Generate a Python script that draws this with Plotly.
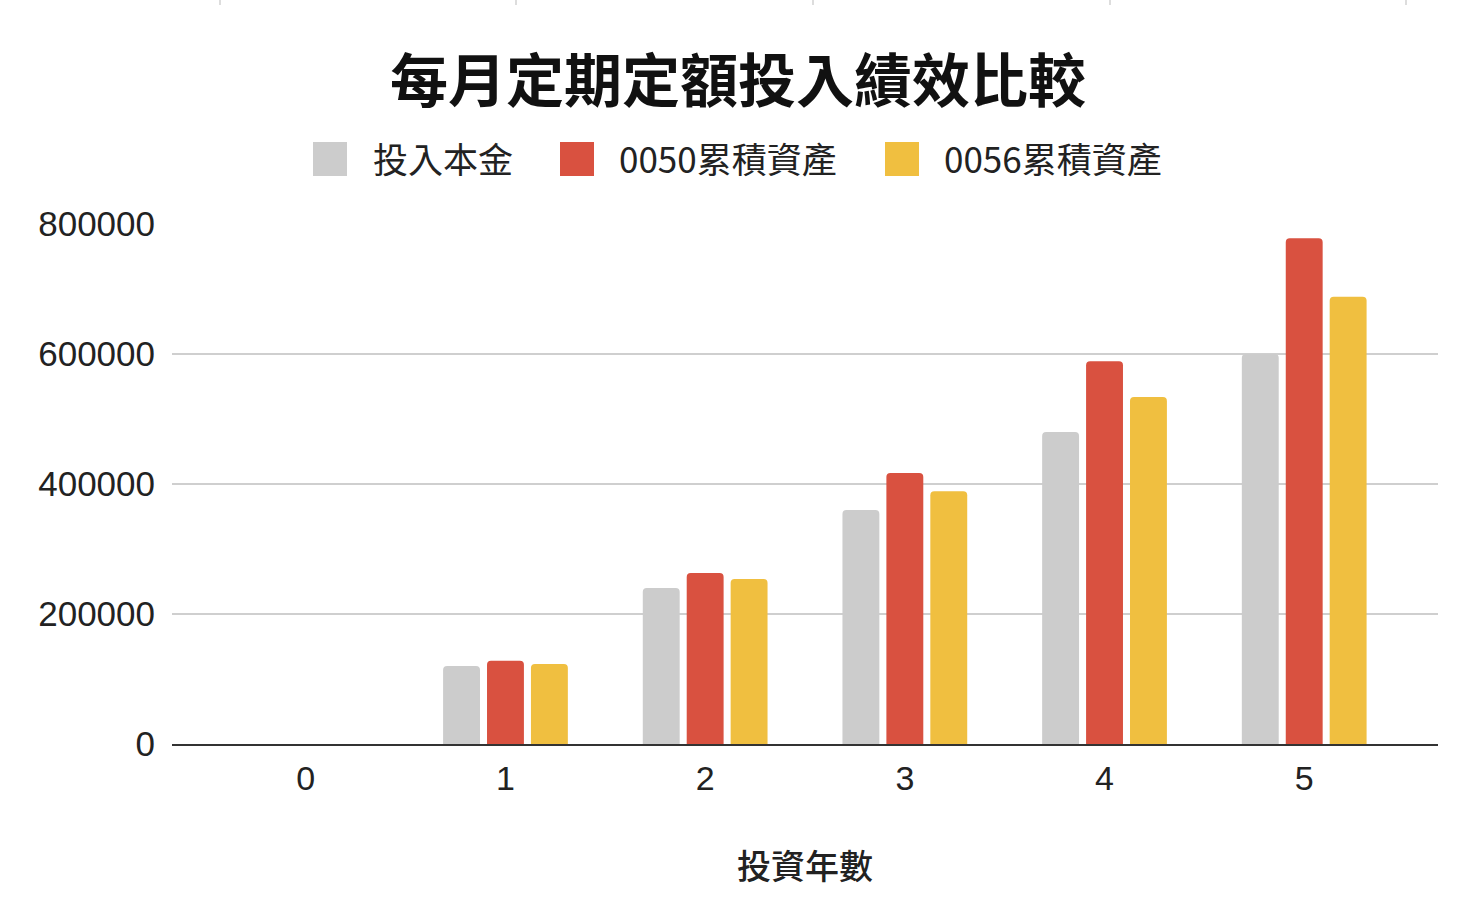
import plotly.graph_objects as go

years = [0, 1, 2, 3, 4, 5]
principal = [0, 120000, 240000, 360000, 480000, 600000]
asset_0050 = [0, 128000, 263000, 417000, 589000, 778000]
asset_0056 = [0, 123000, 254000, 389000, 534000, 688000]
series_names = ["投入本金", "0050累積資產", "0056累積資產"]
colors = ["#CCCCCC", "#D95140", "#F0BF40"]
y_ticks = [0, 200000, 400000, 600000, 800000]
title_text = "每月定期定額投入績效比較"
x_title = "投資年數"

W, H = 1470, 918
L, R, T, B = 172, 32, 224, 174
pw, ph = W - L - R, H - T - B

def px(x):
    return (x - L) / pw

def py(y):
    return (H - B - y) / ph

CJK = "Noto Sans CJK TC"
LAT = "Liberation Sans, Arial, sans-serif"

fig = go.Figure()
for name, vals, col in zip(series_names, [principal, asset_0050, asset_0056], colors):
    fig.add_trace(go.Bar(x=years, y=vals, name=name, marker=dict(color=col, cornerradius=4, line=dict(width=0)),
                         showlegend=False))

shapes = []
annotations = []
# manual legend
legend_items = [(313, 371), (560, 617), (885, 942)]
for (bx, tx), name, col in zip(legend_items, series_names, colors):
    shapes.append(dict(type="rect", xref="paper", yref="paper", x0=px(bx), x1=px(bx + 34),
                       y0=py(176), y1=py(142), fillcolor=col, line=dict(width=0), layer="above"))
    annotations.append(dict(text=name, xref="paper", yref="paper", x=px(tx), y=py(157), xanchor="left",
                            yanchor="middle", showarrow=False,
                            font=dict(family=CJK, size=35, color="#222222")))
# title
annotations.append(dict(text=title_text, xref="paper", yref="paper", x=px(738), y=py(77),
                        xanchor="center", yanchor="middle", showarrow=False,
                        font=dict(family=CJK, size=58, color="#111111", weight=600)))
# x axis title
annotations.append(dict(text=x_title, xref="paper", yref="paper", x=px(805), y=py(864),
                        xanchor="center", yanchor="middle", showarrow=False,
                        font=dict(family=CJK, size=34, color="#222222", weight=500)))
# small marks at top edge
for mx in [220, 516, 813, 1110, 1406]:
    shapes.append(dict(type="line", xref="paper", yref="paper", x0=px(mx), x1=px(mx), y0=py(0), y1=py(5),
                       line=dict(color="#DDDDDD", width=2)))

fig.update_layout(
    width=W, height=H, autosize=False,
    margin=dict(l=L, r=R, t=T, b=B),
    paper_bgcolor="white", plot_bgcolor="white",
    barmode="group", bargap=0.34, bargroupgap=0.16,
    shapes=shapes, annotations=annotations,
    xaxis=dict(range=[-0.67, 5.67], tickmode="array", tickvals=years, ticktext=[str(y) for y in years],
               showgrid=False, zeroline=False, showline=True, linecolor="#333333", linewidth=2,
               ticks="", tickfont=dict(family=LAT, size=34, color="#222222"), ticklabelstandoff=3),
    yaxis=dict(range=[0, 800000], tickmode="array", tickvals=y_ticks, ticktext=[str(v) for v in y_ticks],
               showgrid=True, gridcolor="#CFCFCF", gridwidth=2, zeroline=False, showline=False,
               ticks="", tickfont=dict(family=LAT, size=35, color="#222222"), ticklabelstandoff=16),
)

fig.write_html("out.html")
